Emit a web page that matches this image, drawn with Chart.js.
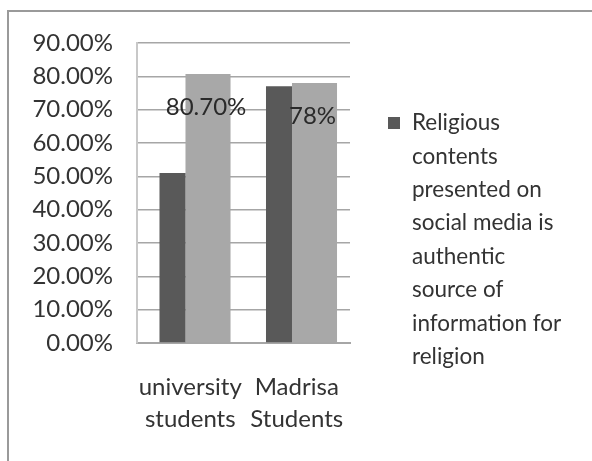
<!DOCTYPE html>
<html>
<head>
<meta charset="utf-8">
<script src="https://cdn.jsdelivr.net/npm/chart.js@4"></script>
<style>
  html, body { margin: 0; padding: 0; background: #fff; }
  #wrap { width: 592px; height: 461px; position: relative; }
</style>
</head>
<body>
<div id="wrap"><canvas id="chart"></canvas></div>
<script>
// chart data
const categories = [["university", "students"], ["Madrisa", "Students"]];
const authenticValues = [51, 77];      // dark series (in legend)
const otherValues = [80.7, 78];        // light series (labelled)
const otherLabels = ["80.70%", "78%"];
const yTickLabels = ["0.00%", "10.00%", "20.00%", "30.00%", "40.00%", "50.00%", "60.00%", "70.00%", "80.00%", "90.00%"];
const legendLines = ["Religious", "contents", "presented on", "social media is", "authentic", "source of", "information for", "religion"];

const FONT = "Lato, 'Open Sans', sans-serif";
const TEXT = "#333333";

// outer frame (top + left edge only, as in the picture)
const framePlugin = {
  id: "frame",
  beforeDraw(chart) {
    const ctx = chart.ctx;
    ctx.save();
    ctx.strokeStyle = "#9a9a9a";
    ctx.lineWidth = 2;
    ctx.beginPath();
    ctx.moveTo(8, 461);
    ctx.lineTo(8, 11);
    ctx.lineTo(592, 11);
    ctx.stroke();
    ctx.restore();
  }
};

// value labels on the light bars
const labelPlugin = {
  id: "barLabels",
  afterDatasetsDraw(chart) {
    const ctx = chart.ctx;
    const meta = chart.getDatasetMeta(1);
    ctx.save();
    ctx.font = "24px " + FONT;
    ctx.fillStyle = "#2a2a2a";
    ctx.textAlign = "center";
    ctx.textBaseline = "middle";
    meta.data.forEach((bar, i) => {
      ctx.fillText(otherLabels[i], bar.x - 2, bar.y + 33);
    });
    ctx.restore();
  }
};

// wrapped legend on the right
const legendPlugin = {
  id: "wrapLegend",
  afterDraw(chart) {
    const ctx = chart.ctx;
    const x0 = chart.chartArea.right + 38;
    const y0 = 123;
    ctx.save();
    ctx.fillStyle = "#595959";
    ctx.fillRect(x0, y0 - 6, 12, 12);
    ctx.font = "22.5px " + FONT;
    ctx.fillStyle = TEXT;
    ctx.textAlign = "left";
    ctx.textBaseline = "middle";
    legendLines.forEach((line, i) => {
      ctx.fillText(line, x0 + 24, y0 + i * 33.4);
    });
    ctx.restore();
  }
};

new Chart(document.getElementById("chart"), {
  type: "bar",
  data: {
    labels: categories,
    datasets: [
      {
        label: legendLines.join(" "),
        data: authenticValues,
        backgroundColor: "#595959",
        barPercentage: 0.732,
        categoryPercentage: 0.667
      },
      {
        label: "other",
        data: otherValues,
        backgroundColor: "#a8a8a8",
        barPercentage: 1.268,
        categoryPercentage: 0.667
      }
    ]
  },
  options: {
    responsive: true,
    maintainAspectRatio: false,
    animation: false,
    layout: { padding: { left: 0, top: 43, right: 242, bottom: 0 } },
    plugins: {
      legend: { display: false },
      tooltip: { enabled: false }
    },
    scales: {
      x: {
        grid: { display: false, drawTicks: false },
        border: { display: true, color: "#a6a6a6", width: 2 },
        ticks: {
          color: TEXT,
          font: { family: FONT, size: 24, lineHeight: 1.34 },
          padding: 28,
          maxRotation: 0
        },
        afterFit(scale) { scale.height = 118; }
      },
      y: {
        min: 0,
        max: 90,
        grid: { color: "#a6a6a6", lineWidth: 1.5, drawTicks: false },
        border: { display: true, color: "#c8c8c8", width: 2 },
        ticks: {
          stepSize: 10,
          padding: 24,
          color: TEXT,
          font: { family: FONT, size: 24 },
          callback: (v, i) => yTickLabels[i]
        },
        afterFit(scale) { scale.width = 137; }
      }
    }
  },
  plugins: [framePlugin, labelPlugin, legendPlugin]
});
</script>
</body>
</html>
